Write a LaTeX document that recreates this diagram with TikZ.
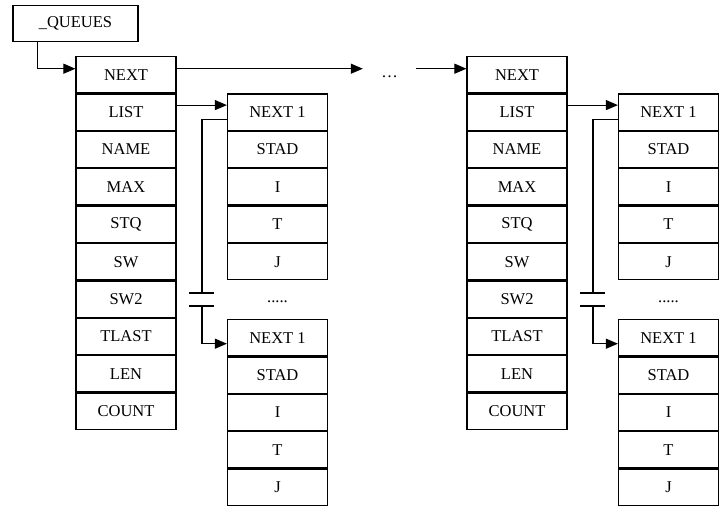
\documentclass[tikz,border=0pt]{standalone}
\usepackage{fontspec}
\setmainfont{Liberation Serif}
\usetikzlibrary{arrows.meta,calc}
\begin{document}
\begin{tikzpicture}[x=1pt,y=-1pt,
  txt/.style={font=\fontsize{16.5}{18}\selectfont},
  cell/.style={draw,line width=1.2pt,minimum width=100pt,minimum height=36.2pt,inner sep=0pt,txt},
  conn/.style={line width=1.1pt},
  arr/.style={conn,-{Triangle[length=12pt,width=10pt]}},
  dotsty/.style={inner sep=0pt,minimum width=53pt,text height=0pt,text depth=0pt,txt}
]
\useasboundingbox (0,0) rectangle (726,509);
\node[draw,line width=1.2pt,minimum width=125pt,minimum height=36pt,inner sep=0pt,txt] (q) at (75.5,23.5) {\_QUEUES};
\foreach \p/\dx in {L/0,R/391}{
  \foreach \t [count=\i] in {NEXT,LIST,NAME,MAX,STQ,SW,SW2,TLAST,LEN,COUNT}
    \node[cell] (\p a\i) at (126+\dx, 56+37.4*\i-18.7) {\t};
  \foreach \t [count=\i] in {{NEXT 1},STAD,I,T,J}
    \node[cell] (\p b\i) at (277.5+\dx, 93.4+37.4*\i-18.7) {\t};
  \foreach \t [count=\i] in {{NEXT 1},STAD,I,T,J}
    \node[cell] (\p c\i) at (277.5+\dx, 319+37.4*\i-18.7) {\t};
  \node[txt,inner sep=0pt] (\p d) at (277.5+\dx, 302) {.....};
  \coordinate (\p k1) at (202+\dx, 293);
  \coordinate (\p k2) at (202+\dx, 306);
  \draw[arr] ($(\p a2.east)+(0,-7)$) -- ($(\p b1.west)+(0,-7)$);
  \draw[conn] ($(\p b1.west)+(0,7)$) -| (\p k1);
  \draw[conn] ($(\p k1)+(-13,0)$) -- ($(\p k1)+(12,0)$);
  \draw[conn] ($(\p k2)+(-13,0)$) -- ($(\p k2)+(12,0)$);
  \draw[arr] (\p k2) |- ($(\p c1.west)+(0,6)$);
}
\node[dotsty] (dots) at (389.5,68.7) {\raisebox{-9pt}{\ldots}};
\draw[arr] ($(q.south west)+(25,0)$) |- ($(La1.west)+(0,-6)$);
\draw[arr] ($(La1.east)+(0,-6)$) -- (dots.west);
\draw[arr] (dots.east) -- ($(Ra1.west)+(0,-6)$);
\end{tikzpicture}
\end{document}
